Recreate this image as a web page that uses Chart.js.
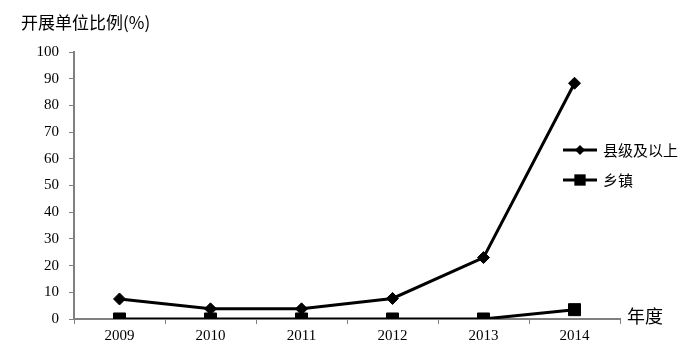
<!DOCTYPE html>
<html>
<head>
<meta charset="utf-8">
<script src="https://cdn.jsdelivr.net/npm/chart.js@4/dist/chart.umd.min.js"></script>
<style>
    html, body { margin: 0; padding: 0; background: #fff; }
    #wrap { position: relative; width: 700px; height: 362px; }
</style>
</head>
<body>
<div id="wrap"><canvas id="lineChart" width="700" height="362"></canvas></div>
<script>
const years = ['2009', '2010', '2011', '2012', '2013', '2014'];
const countyAndAbove = [7.5, 3.8, 3.8, 7.7, 23, 88.3];
const township = [0, 0, 0, 0, 0, 3.5];
const yTicks = [0, 10, 20, 30, 40, 50, 60, 70, 80, 90, 100];

const numFont = { family: "'Liberation Serif', 'DejaVu Serif', serif", size: 15 };
const cjkFont = "'Noto Sans CJK SC', 'Noto Sans', sans-serif";

// title, axis name and legend drawn on top of the chart
const extraText = {
    id: 'extraText',
    afterDraw(chart) {
        const ctx = chart.ctx;
        const area = chart.chartArea;
        ctx.save();
        ctx.fillStyle = '#000';
        ctx.textBaseline = 'middle';
        ctx.font = `17px ${cjkFont}`;
        ctx.textAlign = 'left';
        ctx.fillText('开展单位比例(%)', 21, 23);

        ctx.font = `18px ${cjkFont}`;
        ctx.fillText('年度', area.right + 7, area.bottom - 3);

        // legend
        const items = [
            { text: '县级及以上', y: 150, ds: chart.data.datasets[0] },
            { text: '乡镇', y: 180, ds: chart.data.datasets[1] }
        ];
        items.forEach(item => {
            ctx.strokeStyle = '#000';
            ctx.lineWidth = 3;
            ctx.beginPath();
            ctx.moveTo(563, item.y);
            ctx.lineTo(597, item.y);
            ctx.stroke();
            Chart.helpers.drawPoint(ctx, {
                pointStyle: item.ds.pointStyle,
                radius: item.ds.legendRadius,
                borderWidth: 0,
                rotation: 0
            }, 580, item.y);
            ctx.font = `15px ${cjkFont}`;
            ctx.fillStyle = '#000';
            ctx.fillText(item.text, 603, item.y);
        });
        ctx.restore();
    }
};

new Chart('lineChart', {
    type: 'line',
    data: {
        labels: years,
        datasets: [
            {
                label: '县级及以上',
                data: countyAndAbove,
                borderColor: '#000',
                backgroundColor: '#000',
                borderWidth: 3,
                pointStyle: 'rectRot',
                pointRadius: 6,
                pointBorderWidth: 1,
                legendRadius: 5,
                tension: 0
            },
            {
                label: '乡镇',
                data: township,
                borderColor: '#000',
                backgroundColor: '#000',
                borderWidth: 3,
                pointStyle: 'rect',
                pointRadius: 8.5,
                pointBorderWidth: 1,
                legendRadius: 8,
                tension: 0
            }
        ]
    },
    options: {
        responsive: false,
        animation: false,
        layout: { padding: { top: 52, right: 80, left: 0, bottom: 0 } },
        plugins: {
            legend: { display: false },
            tooltip: { enabled: false }
        },
        scales: {
            x: {
                offset: true,
                afterFit: scale => { scale.height = 43; },
                border: { color: '#808080', width: 2 },
                grid: {
                    offset: true,
                    drawOnChartArea: false,
                    tickLength: 5,
                    color: '#808080'
                },
                ticks: { color: '#000', font: numFont, padding: 3 }
            },
            y: {
                min: 0,
                max: 100,
                afterFit: scale => { scale.width = 74; },
                afterBuildTicks: scale => {
                    scale.ticks = yTicks.map(v => ({ value: v }));
                },
                border: { color: '#808080', width: 2 },
                grid: {
                    drawOnChartArea: false,
                    tickLength: 5,
                    color: '#808080'
                },
                ticks: { color: '#000', font: numFont, padding: 10 }
            }
        }
    },
    plugins: [extraText]
});
</script>
</body>
</html>
